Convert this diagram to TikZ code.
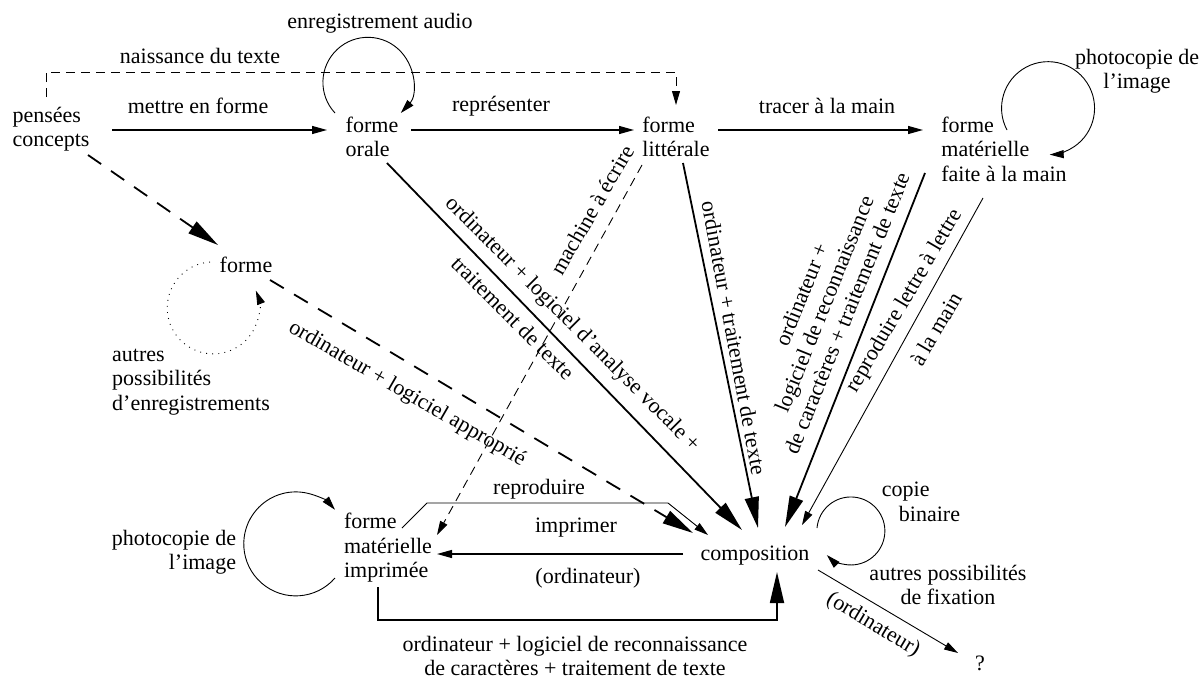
\documentclass[tikz,border=0pt]{standalone}
\usepackage{fontspec}
\setmainfont{Liberation Serif}
\usetikzlibrary{arrows.meta,calc}
\begin{document}
\begin{tikzpicture}[x=0.5pt,y=-0.5pt,
  every node/.style={font=\fontsize{11}{12.25}\selectfont, inner sep=0pt},
  arbig/.style={line width=0.9pt,-{Triangle[length=15.5pt,width=7pt]}},
  armed/.style={line width=0.6pt,-{Triangle[length=7.5pt,width=4pt]}},
  arfine/.style={line width=0.45pt,-{Triangle[length=7pt,width=4pt]}},
  bigdash/.style={dash pattern=on 8pt off 6pt},
  smalldash/.style={dash pattern=on 4.5pt off 3pt},
  dotloop/.style={dash pattern=on 0.45pt off 2.6pt},
]
\useasboundingbox (0,0) rectangle (1200,680);

% main nodes
\node (pc) [align=left] at (51,129) {pensées\\concepts};
\node (orale) [align=left] at (372,137) {forme\\orale};
\node (lit) [align=left] at (676,137) {forme\\littérale};
\node (fm) [align=left] at (1004,149) {forme\\matérielle\\faite à la main};
\node (forme) at (246,265) {forme};
\node (autres) [align=left] at (191,382) {autres\\possibilités\\d’enregistrements};
\node (comp) at (755,556) {composition};
\node (imp) [align=left] at (388,548) {forme\\matérielle\\imprimée};
\node (q) at (980,663) {?};

% labels
\node (laudio) at (380,23) {enregistrement audio};
\node (lnaiss) at (200,56) {naissance du texte};
\node (lmettre) at (198,106) {mettre en forme};
\node (lrepr) at (501,106) {représenter};
\node (ltracer) at (827,106) {tracer à la main};
\node (lphotoa) [align=center] at (1137,71) {photocopie de\\l’image};
\node (lphotob) [align=right] at (174,552) {photocopie de\\l’image};
\node (lcopie) [align=left] at (921,502) {copie\\\hspace{8.5pt}binaire};
\node (lfix) [align=center] at (948,585) {autres possibilités\\de fixation};
\node (lrepro) at (539,489) {reproduire};
\node (limpr) at (576,528) {imprimer};
\node (lordia) at (588,578) {(ordinateur)};
\node (locrb) [align=center] at (575,656) {ordinateur + logiciel de reconnaissance\\de caractères + traitement de texte};
\node (lvocale) [rotate=-45] at (572,325) {ordinateur + logiciel d’analyse vocale +};
\node (ltt) [rotate=-45] at (513,318) {traitement de texte};
\node (lmach) [rotate=60] at (592,210) {machine à écrire};
\node (llit) [rotate=-79.5] at (734,338) {ordinateur + traitement de texte};
\node (lappr) [rotate=-30] at (407,394) {ordinateur + logiciel approprié};
\node (locra) [rotate=68, align=center] at (824,304) {ordinateur +\\logiciel de reconnaissance\\de caractères + traitement de texte};
\node (llettre) [rotate=59.5] at (905,301) {reproduire lettre à lettre};
\node (lmain) [rotate=59.5] at (936,329) {à la main};
\node (lordib) [rotate=-31] at (873,625) {(ordinateur)};

% connectors
\draw[arfine, smalldash] ($(pc)+(-5,-32)$) |- ($(lit)+(0,-65)$) -- ($(lit)+(0,-32)$);
\draw[armed] ($(pc)+(61,1)$) -- ($(orale)+(-45,-7)$);
\draw[armed] ($(orale)+(39,-7)$) -- ($(lit)+(-42,-7)$);
\draw[armed] ($(lit)+(42,-7)$) -- ($(fm)+(-81,-19)$);
\draw[arfine] ($(orale)+(-37,-24)$) arc[start angle=137, end angle=403, radius=45];
\draw[arfine] ($(fm)+(3,-19)$) arc[start angle=152, end angle=448, radius=46.5];
\draw[arfine, dotloop] ($(forme)+(-36,-3)$) arc[start angle=266, end angle=-22, radius=46];
\draw[arbig, bigdash] ($(pc)+(37,26)$) -- ($(forme)+(-28,-20)$);
\draw[arbig, bigdash] ($(forme)+(24,15)$) -- ($(comp)+(-62,-23)$);
\draw[arbig] ($(orale)+(15,26)$) -- ($(comp)+(-13,-26)$);
\draw[arbig] ($(lit)+(7,26)$) -- ($(comp)+(3,-28)$);
\draw[arfine, smalldash] ($(lit)+(-34,28)$) -- ($(imp)+(49,-13)$);
\draw[arbig] ($(fm)+(-79,24)$) -- ($(comp)+(30,-29)$);
\draw[arfine] ($(fm)+(-21,49)$) -- ($(comp)+(47,-31)$);
\draw[arfine] ($(imp)+(14,-20)$) -- ++(25,-25) -- ($(comp)+(-87,-53)$) -- ($(comp)+(-47,-21)$);
\draw[armed] ($(comp)+(-72,-2)$) -- ($(imp)+(49,6)$);
\draw[arbig] ($(imp)+(-10,39)$) |- ($(comp)+(22,64)$) -- ($(comp)+(22,16)$);
\draw[arfine] ($(comp)+(62,-28)$) arc[start angle=185, end angle=495, radius=34];
\draw[arfine] ($(comp)+(63,14)$) -- ($(q)+(-22,-10)$);
\draw[arfine] ($(imp)+(-53,30)$) arc[start angle=41, end angle=319, radius=52];
\end{tikzpicture}
\end{document}
